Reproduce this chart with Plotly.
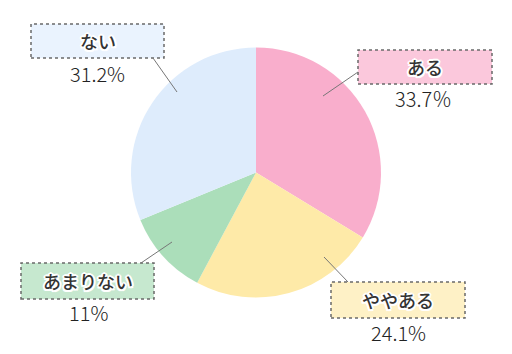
import plotly.graph_objects as go

labels = ["ある", "ややある", "あまりない", "ない"]
values = [33.7, 24.1, 11, 31.2]
pct_text = ["33.7％", "24.1%", "11%", "31.2%"]
colors = ["#F9AECC", "#FEEAA8", "#ABDEBA", "#DEECFC"]
box_colors = ["#FBC8DC", "#FEF1C6", "#C6E8CF", "#EAF3FE"]

W, H = 512, 354
def px(x): return x / W
def py(y): return 1 - y / H

# pie placement (pixels)
cx, cy, r = 256, 172.5, 125

fig = go.Figure(go.Pie(
    labels=labels, values=values, sort=False, direction="clockwise", rotation=0,
    marker=dict(colors=colors, line=dict(width=0)),
    textinfo="none", hoverinfo="none", showlegend=False,
    domain=dict(x=[px(cx - r), px(cx + r)], y=[py(cy + r), py(cy - r)]),
))

# label layout (pixels): box x0,y0,x1,y1 ; pct center ; leader line
boxes = [(358, 50, 492, 84), (331, 282, 465, 318), (21, 263, 154, 299), (31, 24, 164, 58)]
pct_pos = [(423, 99), (398, 332), (88, 312), (97, 73)]
leaders = [((358, 72), (323, 96)), ((348, 282), (324, 257)), ((141, 263), (172, 242)), ((153, 58), (177, 92))]

sh = "2px 0 0 #fff, -2px 0 0 #fff, 0 2px 0 #fff, 0 -2px 0 #fff, 1.5px 1.5px 0 #fff, -1.5px -1.5px 0 #fff, 1.5px -1.5px 0 #fff, -1.5px 1.5px 0 #fff"

shapes = []
annotations = []
for i in range(len(labels)):
    x0, y0, x1, y1 = boxes[i]
    shapes.append(dict(type="rect", xref="paper", yref="paper",
                       x0=px(x0), x1=px(x1), y0=py(y1), y1=py(y0),
                       fillcolor=box_colors[i], line=dict(color="#6a6a6a", width=1.5, dash="dot"),
                       layer="above"))
    (a, b), (c, d) = leaders[i]
    shapes.append(dict(type="line", xref="paper", yref="paper",
                       x0=px(a), y0=py(b), x1=px(c), y1=py(d),
                       line=dict(color="#777777", width=1), layer="above"))
    annotations.append(dict(xref="paper", yref="paper", x=px((x0 + x1) / 2), y=py((y0 + y1) / 2),
                            text=labels[i], showarrow=False, xanchor="center", yanchor="middle",
                            font=dict(family="Noto Sans CJK JP", size=18, color="#333333", weight=500,
                                      shadow=sh)))
    annotations.append(dict(xref="paper", yref="paper", x=px(pct_pos[i][0]), y=py(pct_pos[i][1]),
                            text=pct_text[i], showarrow=False, xanchor="center", yanchor="middle",
                            font=dict(family="Noto Sans CJK JP", size=20, color="#222222", weight=300)))

fig.update_layout(width=W, height=H, margin=dict(l=0, r=0, t=0, b=0),
                  paper_bgcolor="white", plot_bgcolor="white",
                  shapes=shapes, annotations=annotations)

fig.write_html("out.html", include_plotlyjs=True, config={"displayModeBar": False})
